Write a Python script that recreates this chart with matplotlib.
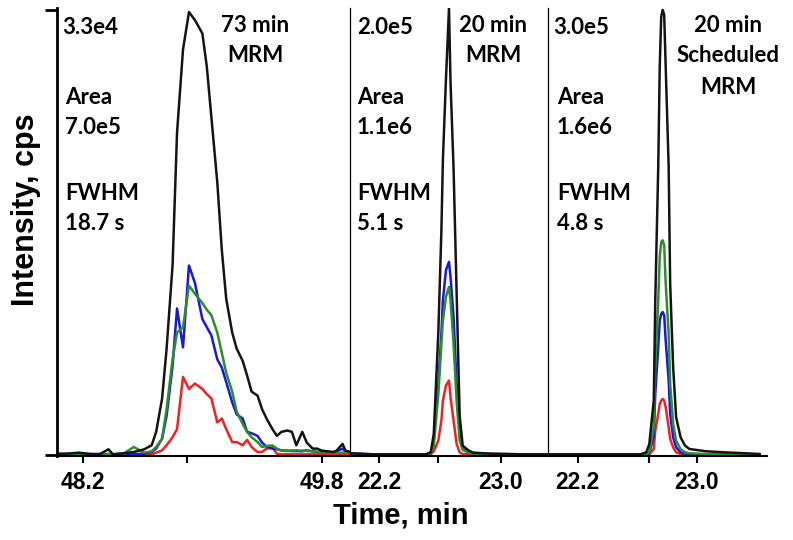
import matplotlib
matplotlib.use("Agg")
import matplotlib.pyplot as plt

# ---- data (cps) ----
t1 = [48.03, 48.09, 48.17, 48.25, 48.31, 48.37, 48.40, 48.47, 48.54, 48.61,
      48.66, 48.69, 48.73, 48.76, 48.80, 48.83, 48.87, 48.91, 48.95, 49.00,
      49.03, 49.06, 49.10, 49.13, 49.16, 49.20, 49.23, 49.27, 49.30, 49.33,
      49.37, 49.40, 49.43, 49.47, 49.50, 49.53, 49.57, 49.60, 49.63, 49.67,
      49.70, 49.74, 49.77, 49.80, 49.84, 49.88, 49.90, 49.94, 49.96, 49.99]
black1 = [70, 70, 150, 50, 30, 400, 30, 100, 200, 400,
          700, 1700, 4200, 7900, 14100, 24000, 30200, 33000, 32400, 31400,
          28900, 25200, 20300, 15300, 11600, 9100, 7900, 7000, 5900, 4700,
          4400, 3400, 2700, 1900, 1400, 1700, 1800, 1700, 700, 1700,
          900, 450, 450, 300, 250, 200, 300, 800, 300, 200]
blue1 = [40, 50, 30, 40, 50, 40, 30, 50, 40, 70,
         200, 450, 1200, 2900, 6600, 10900, 8000, 14100, 12800, 10100,
         9500, 8900, 7100, 6500, 5400, 3900, 3000, 2700, 1700, 1600,
         1400, 900, 600, 450, 400, 320, 300, 270, 270, 250,
         320, 250, 200, 200, 170, 150, 250, 450, 250, 150]
green1 = [25, 50, 50, 25, 25, 50, 25, 70, 570, 150,
          250, 570, 1200, 3400, 7100, 9100, 9500, 12600, 12000, 11300,
          10800, 10400, 9100, 7600, 6100, 4700, 3200, 2300, 1700, 1300,
          940, 570, 640, 690, 450, 300, 270, 300, 320, 300,
          270, 250, 200, 170, 150, 150, 120, 150, 150, 120]
red1 = [25, 25, 25, 25, 25, 25, 25, 25, 25, 25,
        25, 150, 320, 700, 1300, 1900, 5800, 4900, 5300, 4900,
        4500, 4200, 2400, 2700, 1900, 940, 940, 700, 1100, 570,
        200, 200, 450, 500, 70, 25, 25, 25, 25, 25,
        25, 25, 25, 25, 25, 25, 25, 25, 25, 25]

t2 = [22.01, 22.16, 22.38, 22.51, 22.54, 22.56, 22.59, 22.61, 22.62, 22.64,
      22.66, 22.67, 22.69, 22.71, 22.73, 22.75, 22.79, 22.82, 22.93, 23.15, 23.31]
black2 = [600, 150, 150, 150, 1000, 9300, 54800, 100200, 132100, 168200,
          200000, 166800, 128100, 72700, 17400, 4000, 1800, 900, 450, 150, 150]
blue2 = [600, 150, 150, 150, 1000, 6300, 31700, 54200, 69100, 82600,
         86300, 79600, 61600, 31700, 9300, 2500, 1000, 600, 300, 150, 150]
green2 = [300, 150, 150, 150, 600, 4000, 27200, 49700, 60100, 70600,
          75100, 69100, 49700, 24200, 6300, 2100, 900, 450, 300, 150, 150]
red2 = [150, 150, 150, 150, 150, 1500, 6300, 15300, 24200, 31000,
        33200, 25700, 15300, 4800, 1000, 300, 150, 150, 150, 150, 150]

t3 = [22.00, 22.17, 22.39, 22.62, 22.66, 22.68, 22.71, 22.72, 22.74, 22.75,
      22.76, 22.77, 22.78, 22.79, 22.81, 22.82, 22.84, 22.86, 22.89, 22.92,
      22.95, 23.06, 23.18, 23.29, 23.42]
black3 = [230, 230, 230, 230, 1600, 7200, 36500, 104000, 194100, 261700,
          295500, 300000, 296600, 261700, 194100, 115300, 59000, 25200, 11700, 6100,
          3800, 2300, 1600, 1100, 450]
green3 = [230, 230, 230, 230, 230, 1600, 18500, 59000, 104000, 133300,
          143500, 144600, 141200, 115300, 81500, 47700, 20700, 9500, 3600, 1600,
          900, 450, 230, 230, 230]
blue3 = [230, 230, 230, 230, 230, 900, 12800, 41000, 72500, 90500,
         95000, 96200, 93900, 77000, 50000, 27500, 11700, 5000, 1600, 700,
         230, 230, 230, 230, 230]
red3 = [230, 230, 230, 230, 230, 230, 3800, 16200, 27500, 34200,
        36500, 37600, 36500, 32000, 18500, 10600, 5000, 1600, 450, 230,
        230, 230, 230, 230, 230]

maxima = ["3.3e4", "2.0e5", "3.0e5"]
areas = ["7.0e5", "1.1e6", "1.6e6"]
fwhm = ["18.7 s", "5.1 s", "4.8 s"]
methods = [["73 min", "MRM"], ["20 min", "MRM"], ["20 min", "Scheduled", "MRM"]]
xticks = [[48.2, 48.9, 49.8], [22.2, 22.59, 23.0], [22.2, 22.68, 23.0]]
xticklabels = [["48.2", "", "49.8"], ["22.2", "", "23.0"], ["22.2", "", "23.0"]]

W, H = 793, 540
fig = plt.figure(figsize=(W / 100, H / 100), dpi=100)

def fpos(x, y):
    return x / W, 1 - y / H

panel_px = [(57, 350), (350, 548), (548, 767)]
xlims = [(48.025, 49.99), (22.01, 23.31), (22.0, 23.47)]
ylims = [(-100, 33300), (-600, 200000), (-900, 301300)]
traces = [(t1, red1, blue1, green1, black1),
          (t2, red2, blue2, green2, black2),
          (t3, red3, blue3, green3, black3)]

c_red, c_blue, c_green, c_black = "#ee2222", "#1818dd", "#2e8b2e", "#141414"
tick_font = {"family": "Liberation Sans", "weight": "bold", "size": 16.5}
lw = 1.8

for i in range(3):
    l, r = panel_px[i]
    ax = fig.add_axes([l / W, 1 - 456 / H, (r - l) / W, 448 / H])
    t, red, blue, green, black = traces[i]
    ax.plot(t, red, color=c_red, lw=lw)
    ax.plot(t, blue, color=c_blue, lw=lw)
    ax.plot(t, green, color=c_green, lw=lw)
    ax.plot(t, black, color=c_black, lw=lw)
    ax.set_xlim(xlims[i])
    ax.set_ylim(ylims[i])
    ax.spines["top"].set_visible(False)
    ax.spines["right"].set_visible(False)
    ax.spines["bottom"].set_linewidth(1.5)
    if i == 0:
        ax.spines["left"].set_linewidth(2.0)
        ax.set_yticks([0, ylims[0][1] * 0.995])
        ax.set_yticklabels([])
        ax.tick_params(axis="y", length=9, width=2.0)
    else:
        ax.spines["left"].set_linewidth(0.9)
        ax.set_yticks([])
    ax.set_xticks(xticks[i])
    ax.set_xticklabels(xticklabels[i], fontdict=tick_font)
    ax.tick_params(axis="x", length=5, width=1.5, pad=6)

# panel annotations
text_font = {"family": "Lato", "weight": "bold", "size": 16}
max_x = [62, 357, 553]
info_x = [65, 357, 557]
method_x = [255, 493, 728]
method_y = [25, 56, 88]
for i in range(3):
    fig.text(*fpos(max_x[i], 27), maxima[i], ha="left", va="center", **text_font)
    fig.text(*fpos(info_x[i], 98), "Area", ha="left", va="center", **text_font)
    fig.text(*fpos(info_x[i], 128), areas[i], ha="left", va="center", **text_font)
    fig.text(*fpos(info_x[i], 194), "FWHM", ha="left", va="center", **text_font)
    fig.text(*fpos(info_x[i], 223), fwhm[i], ha="left", va="center", **text_font)
    for j, line in enumerate(methods[i]):
        fig.text(*fpos(method_x[i], method_y[j]), line, ha="center", va="center",
                 **text_font)

fig.text(*fpos(401, 515), "Time, min", ha="center", va="center",
         family="Liberation Sans", weight="bold", size=21)
fig.text(*fpos(26, 210), "Intensity, cps", ha="center", va="center", rotation=90,
         family="Liberation Sans", weight="bold", size=22)

fig.savefig("out.png", dpi=100)
